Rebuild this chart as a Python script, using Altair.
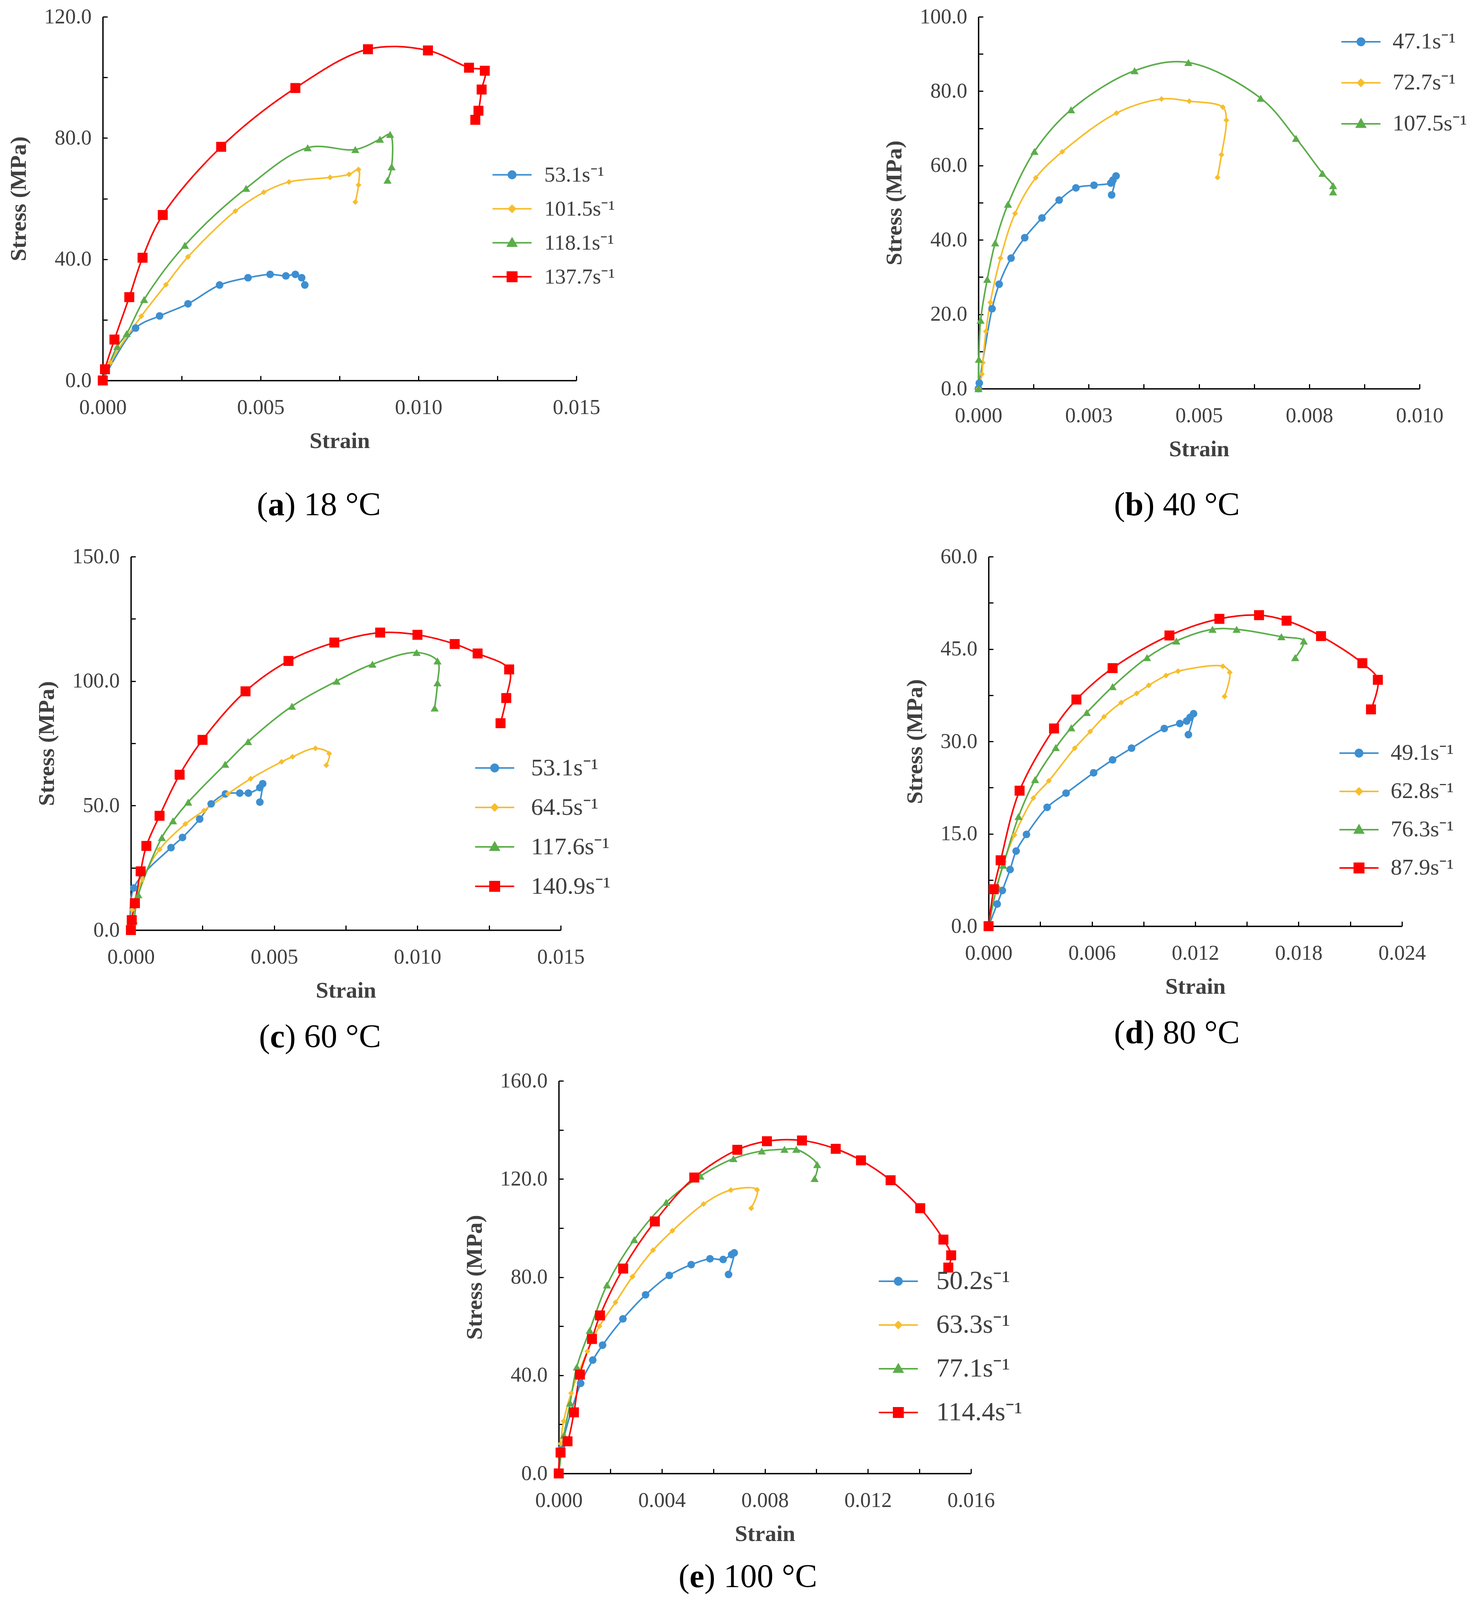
import altair as alt
import pandas as pd

SERIF = "Liberation Serif"
COLORS = ["#3D8FD1", "#F7BD2C", "#5BAD4A", "#FF0000"]
SHAPES = ["circle", "diamond", "triangle-up", "square"]
SIZES = [380, 220, 430, 650]
# legend symbols: a short line with the marker in the middle (unit = 20px)
LEGEND_PATHS = [
    "M-2.5,0H2.5M-0.47,0A0.47,0.47 0 1,1 0.47,0A0.47,0.47 0 1,1 -0.47,0Z",
    "M-2.5,0H2.5M0,-0.42L0.42,0L0,0.42L-0.42,0Z",
    "M-2.5,0H2.5M0,-0.56L0.56,0.43L-0.56,0.43Z",
    "M-2.5,0H2.5M-0.6,-0.6H0.6V0.6H-0.6Z",
]
TICK = 12

# ---------------- (a) 18 °C
a_rates = ["53.1s⁻¹", "101.5s⁻¹", "118.1s⁻¹", "137.7s⁻¹"]
a1_strain = [0, 0.00104, 0.0018, 0.0027, 0.0037, 0.0046, 0.0053, 0.0058, 0.0061, 0.0063, 0.0064]
a1_stress = [0, 17.3, 21.3, 25.3, 31.5, 33.9, 35.0, 34.5, 35.0, 33.9, 31.5]
a2_strain = [0, 0.00024, 0.00122, 0.0020, 0.0027, 0.0042, 0.0051, 0.0059, 0.0072, 0.0078, 0.0081, 0.0081, 0.0080]
a2_stress = [0, 5.9, 21.2, 31.6, 40.8, 55.9, 62.1, 65.5, 67.0, 68.0, 69.6, 64.5, 58.9]
a3_strain = [0, 0.00046, 0.00076, 0.00131, 0.0026, 0.00454, 0.00649, 0.0080, 0.00878, 0.0091, 0.00915, 0.00902]
a3_stress = [0, 11.2, 15.5, 26.7, 44.6, 63.4, 76.8, 76.2, 79.6, 81.2, 70.5, 66.1]
a4_strain = [0, 0.00007, 0.00037, 0.00084, 0.00126, 0.0019, 0.00375, 0.0061, 0.0084, 0.0103,
             0.0116, 0.0121, 0.0120, 0.0119, 0.0118]
a4_stress = [0, 3.7, 13.5, 27.5, 40.5, 54.6, 77.1, 96.5, 109.3, 108.9, 103.2, 102.2, 96.0, 89.0, 86.0]

# ---------------- (b) 40 °C
b_rates = ["47.1s⁻¹", "72.7s⁻¹", "107.5s⁻¹"]
b1_strain = [0, 0.00002, 0.00031, 0.00047, 0.00074, 0.00105, 0.00144, 0.00183, 0.00221, 0.00262,
             0.0030, 0.00305, 0.00312, 0.00302]
b1_stress = [0, 1.5, 21.5, 28.1, 35.1, 40.6, 45.9, 50.7, 54.0, 54.7, 55.3, 56.1, 57.2, 52.1]
b2_strain = [0, 0.00008, 0.0001, 0.00017, 0.00027, 0.0005, 0.00083, 0.0013, 0.0019, 0.00313,
             0.00415, 0.00478, 0.00554, 0.00562, 0.00551, 0.00542]
b2_stress = [0, 3.9, 7.0, 15.4, 23.2, 35.1, 47.1, 56.7, 63.7, 74.1, 77.9, 77.3, 75.7, 72.2, 62.9, 56.8]
b3_strain = [0, 0.00001, 0.00005, 0.0002, 0.00038, 0.00067, 0.00127, 0.0021, 0.00354, 0.00476,
             0.0064, 0.0072, 0.0078, 0.00804, 0.00804]
b3_stress = [0, 7.9, 18.4, 29.4, 39.2, 49.6, 63.8, 75.0, 85.5, 87.7, 78.1, 67.3, 57.9, 54.6, 52.9]

# ---------------- (c) 60 °C
c_rates = ["53.1s⁻¹", "64.5s⁻¹", "117.6s⁻¹", "140.9s⁻¹"]
c1_strain = [0, 0.0001, 0.0014, 0.0018, 0.0024, 0.0028, 0.0033, 0.0038, 0.0041, 0.0045, 0.0046, 0.0045]
c1_stress = [0, 16.9, 33.1, 37.2, 44.6, 50.7, 54.7, 55.0, 55.0, 57.2, 58.8, 51.4]
c2_strain = [0, 0.00004, 0.0004, 0.001, 0.0019, 0.00255, 0.00338, 0.00418, 0.00526, 0.00564,
             0.00644, 0.00692, 0.00682]
c2_stress = [0, 8.1, 20.3, 32.4, 42.6, 48.0, 54.7, 60.8, 67.6, 69.6, 73.0, 70.9, 66.2]
c3_strain = [0, 0.0001, 0.00026, 0.00108, 0.00147, 0.002, 0.00329, 0.00409, 0.00562, 0.00718,
             0.00843, 0.00997, 0.0107, 0.0107, 0.0106]
c3_stress = [0, 4.0, 14.2, 37.2, 43.9, 51.4, 66.6, 75.7, 89.9, 100.0, 106.8, 111.5, 108.1, 99.3, 89.2]
c4_strain = [0, 0.00003, 0.00014, 0.00034, 0.00054, 0.001, 0.0017, 0.0025, 0.004, 0.0055, 0.0071,
             0.0087, 0.0100, 0.0113, 0.0121, 0.0132, 0.0131, 0.0129]
c4_stress = [0, 4.0, 10.8, 23.6, 33.8, 45.9, 62.4, 76.4, 95.9, 108.1, 115.5, 119.5, 118.6, 114.9,
             111.1, 104.7, 93.2, 83.1]

# ---------------- (d) 80 °C
d_rates = ["49.1s⁻¹", "62.8s⁻¹", "76.3s⁻¹", "87.9s⁻¹"]
d1_strain = [0, 0.0005, 0.0008, 0.00125, 0.0016, 0.0022, 0.0034, 0.0045, 0.0061, 0.0072, 0.0083,
             0.0102, 0.0111, 0.0115, 0.0117, 0.0119, 0.0116]
d1_stress = [0, 3.6, 5.8, 9.2, 12.2, 14.9, 19.3, 21.6, 24.9, 27.0, 28.9, 32.1, 32.9, 33.3, 33.9, 34.5, 31.1]
d2_strain = [0, 0.0004, 0.0009, 0.0015, 0.0026, 0.0035, 0.005, 0.0059, 0.0067, 0.0077, 0.0086,
             0.0093, 0.0103, 0.011, 0.0136, 0.014, 0.0137]
d2_stress = [0, 5.5, 10.5, 14.8, 20.8, 23.6, 28.9, 31.6, 34.0, 36.3, 37.8, 39.1, 40.7, 41.4, 42.2, 41.2, 37.3]
d3_strain = [0, 0.0005, 0.00085, 0.00174, 0.0027, 0.0039, 0.0048, 0.0057, 0.0072, 0.0092, 0.0109,
             0.013, 0.0144, 0.017, 0.0183, 0.0178]
d3_stress = [0, 6.6, 9.9, 17.8, 23.8, 29.0, 32.2, 34.7, 38.9, 43.6, 46.3, 48.2, 48.2, 47.0, 46.3, 43.6]
d4_strain = [0, 0.0003, 0.0007, 0.0018, 0.0038, 0.0051, 0.0072, 0.0105, 0.0134, 0.0157, 0.0173,
             0.0193, 0.0217, 0.0226, 0.0222]
d4_stress = [0, 6.0, 10.7, 22.0, 32.1, 36.8, 41.9, 47.2, 49.9, 50.5, 49.6, 47.1, 42.7, 40.0, 35.2]

# ---------------- (e) 100 °C
e_rates = ["50.2s⁻¹", "63.3s⁻¹", "77.1s⁻¹", "114.4s⁻¹"]
e1_strain = [0, 0.0001, 0.00085, 0.00132, 0.0017, 0.00249, 0.00337, 0.00429, 0.00514, 0.00587,
             0.00638, 0.00671, 0.00681, 0.00659]
e1_stress = [0, 10.0, 36.7, 46.2, 52.3, 63.0, 72.8, 80.7, 85.1, 87.5, 87.2, 89.2, 89.9, 81.1]
e2_strain = [0, 0.00007, 0.00019, 0.00048, 0.00111, 0.00158, 0.0022, 0.00286, 0.00366, 0.00441,
             0.00562, 0.00668, 0.0077, 0.00747]
e2_stress = [0, 12.1, 21.3, 32.7, 49.8, 60.0, 69.7, 80.2, 91.0, 98.9, 109.8, 115.5, 115.6, 108.1]
e3_strain = [0, 0.0002, 0.00044, 0.0007, 0.0012, 0.00187, 0.00293, 0.00417, 0.0055, 0.00678,
             0.00788, 0.00876, 0.00922, 0.01003, 0.00993]
e3_stress = [0, 15.6, 28.7, 43.4, 58.3, 76.8, 95.3, 110.5, 121.2, 128.3, 131.4, 132.1, 132.1, 125.9, 120.2]
e4_strain = [0, 0.00007, 0.00034, 0.00059, 0.00082, 0.00129, 0.0016, 0.0025, 0.00373, 0.00526,
             0.00693, 0.00808, 0.00944, 0.01075, 0.01173, 0.01288, 0.01403, 0.01493, 0.01523, 0.01512]
e4_stress = [0, 8.5, 13.1, 24.9, 40.3, 54.8, 64.4, 83.5, 102.7, 120.6, 131.9, 135.4, 135.7, 132.3,
             127.6, 119.5, 108.1, 95.3, 88.9, 83.9]

# Times-like widths (em) for the caption text
CHAR_W = {"(": 0.333, ")": 0.333, " ": 0.25, "°": 0.4, "C": 0.667}
BOLD_W = {"a": 0.5, "b": 0.556, "c": 0.444, "d": 0.556, "e": 0.444}


def tick_values(vmax, step):
    return [round(j * step, 7) for j in range(int(round(vmax / step)) + 1)]


def caption(letter, rest, cx, cy, fs=85):
    rest_w = sum(CHAR_W.get(ch, 0.5) for ch in rest)
    x0 = cx - (0.333 + BOLD_W[letter] + rest_w) * fs / 2
    parts = [("(", x0, "normal"),
             (letter, x0 + 0.333 * fs, "bold"),
             (rest, x0 + (0.333 + BOLD_W[letter]) * fs, "normal")]
    out = []
    for txt, px, weight in parts:
        out.append(
            alt.Chart(pd.DataFrame({"t": [txt]})).mark_text(
                align="left", baseline="middle", font=SERIF, fontSize=fs,
                fontWeight=weight, color="black"
            ).encode(text="t:N", x=alt.value(px), y=alt.value(cy))
        )
    return out


def panel(rates, strains, stresses, xmax, xlab, ymax, ylab, w, h, leg, cap):
    rows = []
    for k, (rate, xs, ys) in enumerate(zip(rates, strains, stresses)):
        for i, (x, y) in enumerate(zip(xs, ys)):
            rows.append({"rate": rate, "k": k, "i": i, "strain": x, "stress": y})
    df = pd.DataFrame(rows)
    n = len(rates)

    # ticks point into the plot (Excel style), so the tick size is negative
    x_axis = alt.Axis(
        values=tick_values(xmax, xlab / 2), title="Strain", labelFlush=False, labelOverlap=False,
        labelExpr=f"abs(datum.value / {xlab} - round(datum.value / {xlab})) < 1e-6 ? "
                  f"format(datum.value + 1e-9, '.3f') : ''",
        tickSize=alt.ExprRef(f"-{TICK}"), labelPadding=30 + 2 * TICK, titlePadding=30,
    )
    y_axis = alt.Axis(
        values=tick_values(ymax, ylab / 2), title="Stress (MPa)", labelOverlap=False, labelFlush=False,
        labelExpr=f"abs(datum.value / {ylab} - round(datum.value / {ylab})) < 1e-6 ? "
                  f"format(datum.value, '.1f') : ''",
        tickSize=alt.ExprRef(f"-{TICK}"), labelPadding=17 + 2 * TICK, titlePadding=35,
    )
    base = alt.Chart(df).encode(
        x=alt.X("strain:Q", scale=alt.Scale(domain=[0, xmax], nice=False), axis=x_axis),
        y=alt.Y("stress:Q", scale=alt.Scale(domain=[0, ymax], nice=False), axis=y_axis),
    )
    layers = []
    for k in range(n):
        layers.append(
            base.transform_filter(alt.datum.k == k)
            .mark_line(interpolate="catmull-rom", color=COLORS[k], strokeWidth=4)
            .encode(order="i:Q")
        )
    for k in range(n):
        layers.append(
            base.transform_filter(alt.datum.k == k)
            .mark_point(filled=True, shape=SHAPES[k], size=SIZES[k], color=COLORS[k], opacity=1)
        )
    lx, ly, fs, rowpad, loff = leg
    legend = alt.Legend(
        title=None, orient="none", legendX=lx, legendY=ly, direction="vertical",
        symbolSize=1600, symbolStrokeWidth=4, symbolOpacity=1,
        labelFont=SERIF, labelFontSize=fs, labelColor="#404040", labelLimit=600,
        labelOffset=loff, rowPadding=rowpad, padding=0,
    )
    layers.append(
        base.transform_filter("false").mark_point(filled=True).encode(
            fill=alt.Fill("rate:N", scale=alt.Scale(domain=rates, range=COLORS[:n]), legend=legend),
            stroke=alt.Stroke("rate:N", scale=alt.Scale(domain=rates, range=COLORS[:n]), legend=legend),
            shape=alt.Shape("rate:N", scale=alt.Scale(domain=rates, range=LEGEND_PATHS[:n]), legend=legend),
        )
    )
    layers += caption(*cap)
    return alt.layer(*layers).properties(width=w, height=h)


def spacer(w, h):
    # invisible block that only reserves room in the layout
    return alt.Chart(pd.DataFrame({"v": [0]})).mark_rect(opacity=0).encode(
        x=alt.value(0), x2=alt.value(w), y=alt.value(0), y2=alt.value(h)
    ).properties(width=w, height=h)


INDEP = dict(x="independent", y="independent", fill="independent",
             stroke="independent", shape="independent")

pa = panel(a_rates, [a1_strain, a2_strain, a3_strain, a4_strain],
           [a1_stress, a2_stress, a3_stress, a4_stress],
           0.015, 0.005, 120, 40, 1212, 931,
           (1020, 377, 55, 31, 55), ("a", ") 18 °C", 553, 1250))
pb = panel(b_rates, [b1_strain, b2_strain, b3_strain], [b1_stress, b2_stress, b3_stress],
           0.010, 0.0025, 100, 20, 1129, 952,
           (950, 35, 58, 47, 52), ("b", ") 40 °C", 508, 1250))
pc = panel(c_rates, [c1_strain, c2_strain, c3_strain, c4_strain],
           [c1_stress, c2_stress, c3_stress, c4_stress],
           0.015, 0.005, 150, 50, 1100, 956,
           (900, 510, 62, 39, 62), ("c", ") 60 °C", 484, 1230))
pd_ = panel(d_rates, [d1_strain, d2_strain, d3_strain, d4_strain],
            [d1_stress, d2_stress, d3_stress, d4_stress],
            0.024, 0.006, 60, 15, 1058, 946,
            (919, 474, 58, 40, 52), ("d", ") 80 °C", 482, 1220))
pe = panel(e_rates, [e1_strain, e2_strain, e3_strain, e4_strain],
           [e1_stress, e2_stress, e3_stress, e4_stress],
           0.016, 0.004, 160, 40, 1055, 1005,
           (835, 479, 68, 44, 63), ("e", ") 100 °C", 484, 1270))

LEFT = 255
row1 = alt.hconcat(spacer(LEFT, 1355), pa, spacer(1029, 1), pb,
                   spacing=0, bounds="flush").resolve_scale(**INDEP)
row2 = alt.hconcat(spacer(LEFT + 72, 1315), pc, spacer(1095, 1), pd_,
                   spacing=0, bounds="flush").resolve_scale(**INDEP)
row3 = alt.hconcat(spacer(LEFT + 1167, 1), pe,
                   spacing=0, bounds="flush").resolve_scale(**INDEP)

chart = alt.vconcat(row1, row2, row3, spacing=0).resolve_scale(**INDEP).properties(
    padding={"left": 0, "top": 8, "right": 0, "bottom": 0}
).configure_view(
    strokeWidth=0
).configure_axis(
    grid=False, domainColor="black", domainWidth=3.5, tickColor="black", tickWidth=3,
    labelFont=SERIF, labelFontSize=54, labelColor="#404040",
    titleFont=SERIF, titleFontSize=58, titleFontWeight="bold", titleColor="#404040",
)

chart.save("out.html", embed_options={"renderer": "svg", "actions": False})
